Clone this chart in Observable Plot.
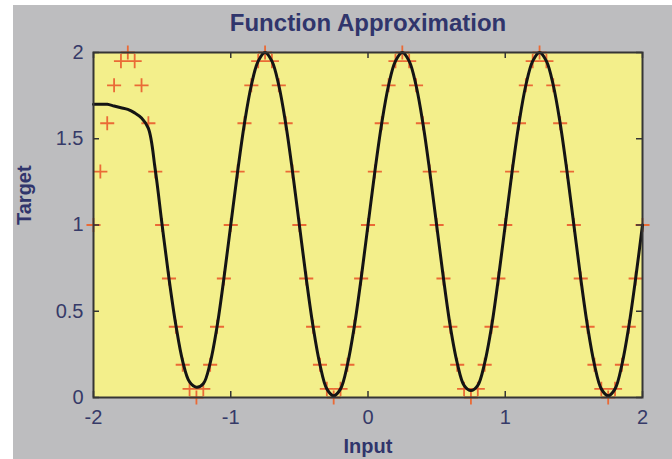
<!DOCTYPE html>
<html>
<head>
<meta charset="utf-8">
<script src="https://cdn.jsdelivr.net/npm/d3@7"></script>
<script src="https://cdn.jsdelivr.net/npm/@observablehq/plot@0.6"></script>
<style>
  html, body { margin: 0; padding: 0; background: #ffffff; }
  #wrap { position: relative; width: 672px; height: 459px; background: #ffffff; overflow: hidden; }
  #bg { position: absolute; left: 13px; top: 5px; width: 659px; height: 454px; background: #bdbdbf; }
  #chart { position: absolute; left: 0; top: 0; }
</style>
</head>
<body>
<div id="wrap"><div id="bg"></div><div id="chart"></div></div>
<script>
// ---- data ----
const titleText = "Function Approximation";
const xLabel = "Input";
const yLabel = "Target";

const xTicks = [-2, -1, 0, 1, 2];
const xTickLabels = ["-2", "-1", "0", "1", "2"];
const yTicks = [0, 0.5, 1, 1.5, 2];
const yTickLabels = ["0", "0.5", "1", "1.5", "2"];

// training inputs (x of each "+")
const input = [-2,-1.95,-1.9,-1.85,-1.8,-1.75,-1.7,-1.65,-1.6,-1.55,
  -1.5,-1.45,-1.4,-1.35,-1.3,-1.25,-1.2,-1.15,-1.1,-1.05,
  -1,-0.95,-0.9,-0.85,-0.8,-0.75,-0.7,-0.65,-0.6,-0.55,
  -0.5,-0.45,-0.4,-0.35,-0.3,-0.25,-0.2,-0.15,-0.1,-0.05,
  0,0.05,0.1,0.15,0.2,0.25,0.3,0.35,0.4,0.45,
  0.5,0.55,0.6,0.65,0.7,0.75,0.8,0.85,0.9,0.95,
  1,1.05,1.1,1.15,1.2,1.25,1.3,1.35,1.4,1.45,
  1.5,1.55,1.6,1.65,1.7,1.75,1.8,1.85,1.9,1.95,2];

// targets (y of each "+")
const target = [1,1.31,1.59,1.81,1.95,2,1.95,1.81,1.59,1.31,
  1,0.69,0.41,0.19,0.05,0,0.05,0.19,0.41,0.69,
  1,1.31,1.59,1.81,1.95,2,1.95,1.81,1.59,1.31,
  1,0.69,0.41,0.19,0.05,0,0.05,0.19,0.41,0.69,
  1,1.31,1.59,1.81,1.95,2,1.95,1.81,1.59,1.31,
  1,0.69,0.41,0.19,0.05,0,0.05,0.19,0.41,0.69,
  1,1.31,1.59,1.81,1.95,2,1.95,1.81,1.59,1.31,
  1,0.69,0.41,0.19,0.05,0,0.05,0.19,0.41,0.69,1];

// network output (black curve), read at the same inputs
const output = [1.70,1.70,1.70,1.69,1.68,1.67,1.65,1.62,1.56,1.32,
  1.00,0.69,0.42,0.21,0.09,0.06,0.08,0.20,0.41,0.69,
  1,1.31,1.59,1.81,1.95,2,1.95,1.81,1.59,1.31,
  1,0.69,0.41,0.19,0.05,0.01,0.05,0.19,0.41,0.69,
  1,1.31,1.59,1.81,1.95,2,1.95,1.81,1.59,1.31,
  1,0.69,0.41,0.20,0.07,0.04,0.07,0.20,0.41,0.69,
  1,1.31,1.59,1.81,1.95,2,1.95,1.81,1.59,1.31,
  1,0.69,0.41,0.19,0.05,0.01,0.05,0.19,0.41,0.69,1];

// ---- chart ----
const W = 672, H = 459;
const mT = 52, mR = 30, mB = 62, mL = 93;
const fw = W - mL - mR, fh = H - mT - mB;
const labelColor = "#30356c";

const chart = Plot.plot({
  width: W, height: H,
  marginTop: mT, marginRight: mR, marginBottom: mB, marginLeft: mL,
  style: {background: "transparent", fontFamily: "'Liberation Sans', Arial, sans-serif", fontSize: "20px", color: "#363a68", overflow: "visible"},
  x: {domain: [-2, 2], ticks: xTicks, tickFormat: d => xTickLabels[xTicks.indexOf(d)], tickSize: 0, tickPadding: 12, label: null},
  y: {domain: [0, 2], ticks: yTicks, tickFormat: d => yTickLabels[yTicks.indexOf(d)], tickSize: 0, tickPadding: 10, label: null},
  marks: [
    Plot.frame({fill: "#f3ef8b", stroke: "none"}),
    Plot.dot(target, {x: input, y: target, symbol: "plus", r: 4.6, stroke: "#ea6a36", strokeWidth: 1.8}),
    Plot.line(output, {x: input, y: output, stroke: "#141414", strokeWidth: 3, curve: "catmull-rom"}),
    Plot.frame({stroke: "#353535", strokeWidth: 2}),
    Plot.tickX(xTicks, {x: d => d, insetTop: fh - 6, stroke: "#353535", strokeWidth: 1.5}),
    Plot.tickX(xTicks, {x: d => d, insetBottom: fh - 6, stroke: "#353535", strokeWidth: 1.5}),
    Plot.tickY(yTicks, {y: d => d, insetRight: fw - 6, stroke: "#353535", strokeWidth: 1.5}),
    Plot.tickY(yTicks, {y: d => d, insetLeft: fw - 6, stroke: "#353535", strokeWidth: 1.5}),
    Plot.text([titleText], {text: d => d, frameAnchor: "top", dy: -29, lineAnchor: "middle", fontSize: 24, fontWeight: "bold", fill: labelColor}),
    Plot.text([xLabel], {text: d => d, frameAnchor: "bottom", dy: 49, lineAnchor: "middle", fontSize: 20, fontWeight: "bold", fill: labelColor}),
    Plot.text([yLabel], {text: d => d, frameAnchor: "left", dx: -69, rotate: -90, lineAnchor: "middle", fontSize: 20, fontWeight: "bold", fill: labelColor})
  ]
});
document.getElementById("chart").appendChild(chart);
</script>
</body>
</html>
